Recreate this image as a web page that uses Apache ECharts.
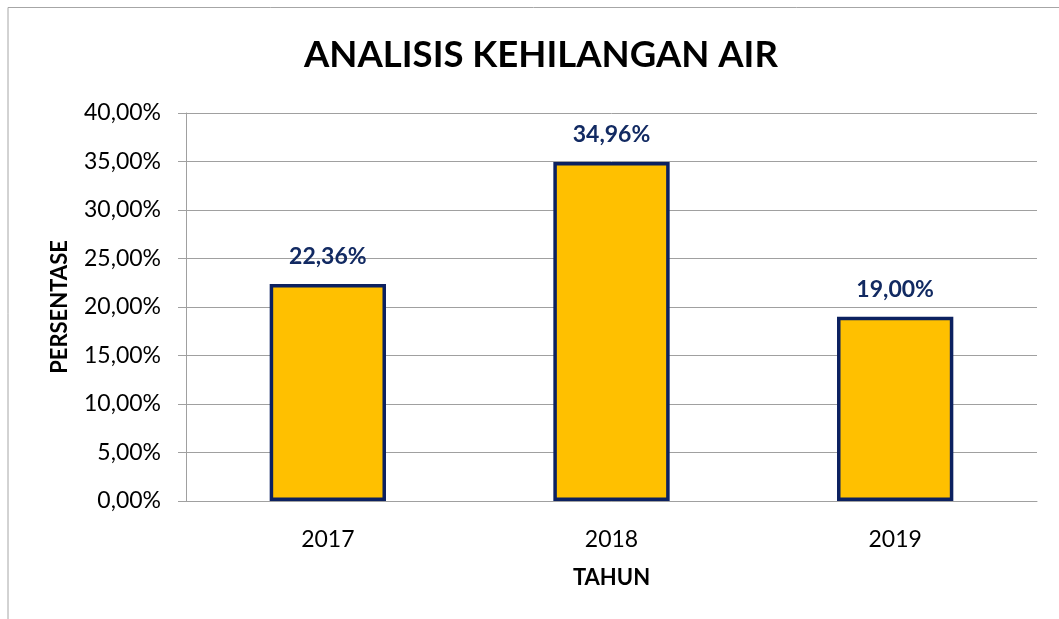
<!DOCTYPE html>
<html>
<head>
<meta charset="utf-8">
<script src="https://cdn.jsdelivr.net/npm/echarts@6/dist/echarts.min.js"></script>
<style>
  html, body { margin: 0; padding: 0; background: #fff; }
  #chart { width: 1059px; height: 619px; }
</style>
</head>
<body>
<div id="chart"></div>
<script>
// Data
const years = ['2017', '2018', '2019'];
const lossPct = [22.36, 34.96, 19.00];
const yTicks = [0, 5, 10, 15, 20, 25, 30, 35, 40];

const fmtPct = v => v.toFixed(2).replace('.', ',') + '%';
const fontFam = 'Lato, "Open Sans", "Liberation Sans", sans-serif';

const chart = echarts.init(document.getElementById('chart'));
chart.setOption({
  animation: false,
  textStyle: { fontFamily: fontFam },
  graphic: [{
    type: 'polyline',
    shape: { points: [[8, 619], [8, 7.5], [1059, 7.5]] },
    style: { stroke: '#a6a6a6', lineWidth: 1, fill: null }
  }],
  title: {
    text: 'ANALISIS KEHILANGAN AIR',
    left: 299,
    top: 32,
    textStyle: { fontSize: 36.5, fontWeight: 'bold', color: '#000', fontFamily: fontFam }
  },
  grid: { left: 186, right: 22, top: 113, bottom: 118 },
  xAxis: {
    type: 'category',
    data: years,
    name: 'TAHUN',
    nameLocation: 'middle',
    nameGap: 66,
    nameTextStyle: { fontSize: 22, fontWeight: 'bold', color: '#000' },
    axisLine: { lineStyle: { color: '#a0a0a0', width: 1 } },
    axisTick: { show: false },
    axisLabel: { fontSize: 23, color: '#000', margin: 27 }
  },
  yAxis: {
    type: 'value',
    min: yTicks[0],
    max: yTicks[yTicks.length - 1],
    interval: 5,
    name: 'PERSENTASE',
    nameLocation: 'middle',
    nameGap: 115,
    nameTextStyle: { fontSize: 22, fontWeight: 'bold', color: '#000' },
    axisLine: { show: true, lineStyle: { color: '#a0a0a0', width: 1 } },
    axisTick: { show: true, length: 8, lineStyle: { color: '#a0a0a0' } },
    splitLine: { lineStyle: { color: '#a0a0a0', width: 1 } },
    axisLabel: { fontSize: 23, color: '#000', margin: 25, formatter: v => fmtPct(v) }
  },
  series: [{
    type: 'bar',
    data: lossPct,
    barWidth: '41%',
    itemStyle: { color: '#ffc000', borderColor: '#0c2160', borderWidth: 3.5 },
    label: {
      show: true,
      position: 'top',
      distance: 16,
      fontSize: 23,
      fontWeight: 'bold',
      color: '#122a62',
      formatter: p => fmtPct(p.value)
    }
  }]
});
</script>
</body>
</html>
